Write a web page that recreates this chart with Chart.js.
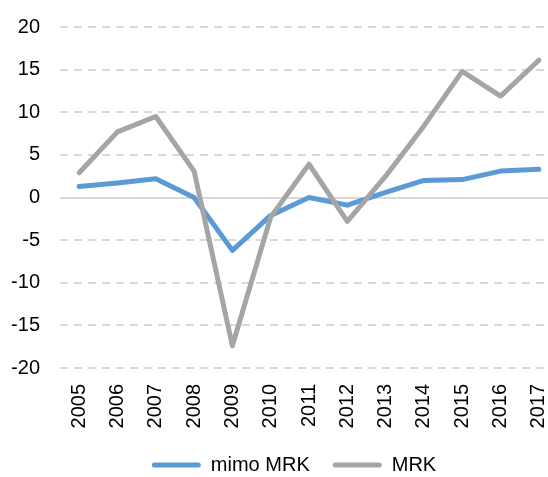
<!DOCTYPE html>
<html>
<head>
<meta charset="utf-8">
<script src="https://cdn.jsdelivr.net/npm/chart.js@4.4.0/dist/chart.umd.min.js"></script>
<style>
  html, body { margin: 0; padding: 0; background: #ffffff; overflow: hidden; }
  #wrap { width: 580px; height: 485px; position: relative; }
</style>
</head>
<body>
<div id="wrap"><canvas id="c" width="580" height="485"></canvas></div>
<script>
const years = ['2005','2006','2007','2008','2009','2010','2011','2012','2013','2014','2015','2016','2017'];
const mimoMRK = [1.3, 1.7, 2.2, 0.0, -6.2, -2.1, 0.0, -0.9, 0.6, 2.0, 2.1, 3.1, 3.3];
const MRK = [2.9, 7.7, 9.5, 3.1, -17.4, -2.3, 3.9, -2.8, 2.5, 8.4, 14.8, 11.9, 16.1];
const yTicks = [-20, -15, -10, -5, 0, 5, 10, 15, 20];

const FONT = "'Liberation Sans', Arial, sans-serif";
Chart.defaults.font.family = FONT;
Chart.defaults.font.size = 20;
Chart.defaults.color = '#000000';

const legendShift = {
  id: 'legendShift',
  afterLayout(chart) {
    const lg = chart.legend;
    if (lg) { lg.left += 15; lg.right += 15; }
  }
};

new Chart(document.getElementById('c'), {
  type: 'line',
  data: {
    labels: years,
    datasets: [
      { label: 'mimo MRK', data: mimoMRK, borderColor: '#5b9bd5', backgroundColor: '#5b9bd5',
        borderWidth: 5, pointRadius: 0, tension: 0, borderJoinStyle: 'round', borderCapStyle: 'round', order: 1 },
      { label: 'MRK', data: MRK, borderColor: '#a5a5a5', backgroundColor: '#a5a5a5',
        borderWidth: 5, pointRadius: 0, tension: 0, borderJoinStyle: 'round', borderCapStyle: 'round', order: 0 }
    ]
  },
  plugins: [legendShift],
  options: {
    responsive: false,
    animation: false,
    devicePixelRatio: 1,
    layout: { padding: { top: 27, left: 0, right: 22, bottom: 0 } },
    plugins: {
      tooltip: { enabled: false },
      legend: {
        position: 'bottom',
        labels: {
          boxWidth: 49,
          boxHeight: 5,
          padding: 23,
          font: { size: 20 },
          color: '#000000',
          sort: (a, b) => a.datasetIndex - b.datasetIndex,
          generateLabels: (chart) => {
            const items = Chart.defaults.plugins.legend.labels.generateLabels(chart);
            items.forEach(it => { it.lineWidth = 0; it.borderRadius = 2.5; });
            return items;
          }
        }
      }
    },
    scales: {
      x: {
        offset: true,
        grid: { display: false, drawTicks: false },
        border: { display: false },
        ticks: { minRotation: 90, maxRotation: 90, padding: 16, autoSkip: false, font: { size: 20 } },
        afterFit: (s) => { s.height = 64; s.paddingLeft = 0; s.paddingRight = 0; }
      },
      y: {
        min: -20, max: 20,
        afterBuildTicks: (s) => { s.ticks = yTicks.map(v => ({ value: v })); },
        grid: {
          color: '#d9d9d9',
          lineWidth: 2,
          drawTicks: false
        },
        border: {
          display: false,
          dash: (ctx) => (ctx.tick && ctx.tick.value === 0) ? [] : [8, 6]
        },
        ticks: { padding: 20, font: { size: 20 } },
        afterFit: (s) => { s.width = 60; s.paddingTop = 0; s.paddingBottom = 0; }
      }
    }
  }
});
</script>
</body>
</html>
